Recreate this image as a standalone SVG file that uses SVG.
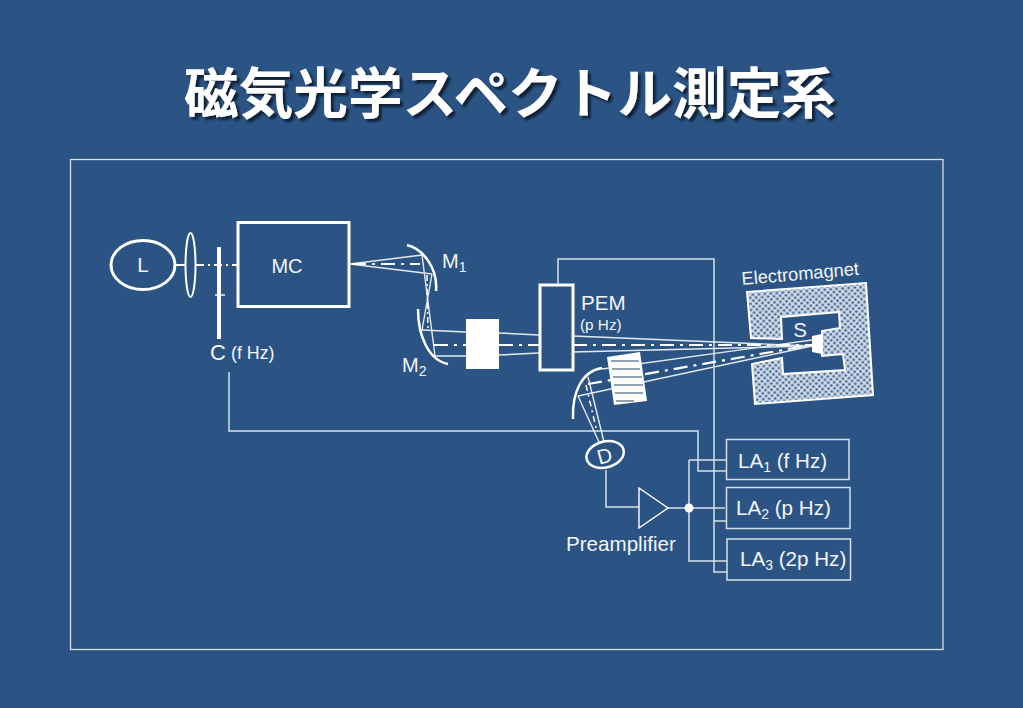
<svg xmlns="http://www.w3.org/2000/svg" width="1023" height="708" viewBox="0 0 1023 708">
<defs>
<style>
text{font-family:"Liberation Sans",Arial,sans-serif;fill:#f2f5f9;font-size:20.600px}
.title{font-family:"Noto Sans CJK JP","Noto Sans CJK SC",sans-serif;font-weight:700;font-size:54.500px;fill:#fff;filter:url(#sh)}
.s{font-size:14px}
.t,.w,.r,.dd,.o{fill:none;stroke:#fff}
.t{stroke-width:1.500;stroke:#d5dfea}
.r{stroke-width:1.400;stroke:#e3e9f1}
.w{stroke-width:3}
.dd{stroke-width:2.200;stroke-dasharray:14 6 3 6}
.o{stroke-width:1.400}
</style>
<filter id="sh" x="-5%" y="-20%" width="110%" height="140%"><feDropShadow dx="3" dy="3" stdDeviation="1.200" flood-color="#0b1a33" flood-opacity="0.950"/></filter>
<pattern id="hatch" width="6" height="6" patternUnits="userSpaceOnUse" patternTransform="rotate(-4)">
<rect width="6" height="6" fill="#cfdae7"/>
<circle cx="1.500" cy="1.500" r="1.300" fill="#3a608e"/>
<circle cx="4.500" cy="4.500" r="1.300" fill="#3a608e"/>
</pattern>
</defs>
<rect width="1023" height="708" fill="#2b5484"/>
<text id="title" class="title" x="184" y="113" textLength="652" lengthAdjust="spacingAndGlyphs">磁気光学スペクトル測定系</text>
<rect id="frame" x="70.500" y="159.500" width="872.500" height="490" fill="none" stroke="#d5dfea" stroke-width="1.300"/>
<g id="connectors">
<path class="t" d="M229 372V431H698V471H727"/>
<path class="t" d="M558 285V259H714V572H727M714 521H726"/>
<path class="t" d="M606 470V507H639M668 508H725M689 460V561H727M689 460H727"/>
<path class="r" d="M350 264L422 255M350 264L432 274M422 255L435 356M432 274L422 330"/>
<path class="r" d="M422 330L466 332M435 356L466 356M499 333L539 335M499 355L539 353"/>
<path class="r" d="M573 336L812 346M573 352L812 346"/>
<path class="r" d="M602 369L812 340M578 396L812 346M578 396L599 442M588 377L604 442"/>
<path style="stroke:#fff;stroke-width:2" d="M176 265H186"/>
<path class="dd" d="M196 265H238" style="stroke-dasharray:8 4 2 4"/>
<path class="dd" d="M352 264H420"/>
<path class="dd" d="M427 275L428 330" style="stroke-width:1.500;stroke-dasharray:6 3 2 3"/>
<path class="dd" d="M434 345H466M499 345H539M573 345H812"/>
<path class="dd" d="M588 384L812 345"/>
<path class="dd" d="M586 385L597 432" style="stroke-width:1.500;stroke-dasharray:6 4 2 4"/>
<path d="M215 295H225" class="o"/>
</g>
<g id="L"><ellipse class="w" cx="143" cy="265" rx="32" ry="24.500"/><text x="143" y="272" text-anchor="middle">L</text></g>
<g id="lens"><ellipse cx="190.500" cy="265" rx="5" ry="32" fill="none" stroke="#fff" stroke-width="2"/></g>
<g id="C"><rect x="217" y="247" width="4" height="92" fill="#fff"/><text x="210" y="360" style="font-size:22px">C</text><text x="231" y="359" style="font-size:17.800px">(f Hz)</text></g>
<g id="MC"><rect class="w" x="238" y="222.500" width="111" height="84"/><text x="287" y="273" text-anchor="middle" style="font-size:20px">MC</text></g>
<g id="M1"><path class="w" style="stroke-width:2.500" d="M407 245C423 249 438 268 436 291"/><text x="442" y="268" style="font-size:20px">M<tspan class="s" dy="4">1</tspan></text></g>
<g id="M2"><path class="w" style="stroke-width:2.500" d="M418 309C418 335 428 360 448 364"/><text x="402" y="372" style="font-size:20px">M<tspan class="s" dy="4">2</tspan></text></g>
<g id="block"><rect x="466" y="319" width="33" height="50" fill="#fff"/></g>
<g id="PEM"><rect class="w" x="540" y="285" width="33" height="85" fill="#2b5484"/><text x="581" y="310">PEM</text><text x="580" y="330" style="font-size:15.300px">(p Hz)</text></g>
<g id="filter"><path d="M607 357L640 352L647 401L614 405Z" fill="#fff"/><path stroke="#24456f" stroke-width="1.200" fill="none" d="M611 361H639M612 369H640M613 377H642M614 385H643M615 393H643M616 401H634"/></g>
<g id="M3"><path class="w" style="stroke-width:2.500" d="M602 368C582 371 572 392 573 419"/></g>
<g id="D"><ellipse cx="605" cy="454.500" rx="19" ry="13" transform="rotate(-15 605 454)" fill="#2b5484" stroke="#fff" stroke-width="2.500"/><text x="605" y="463" text-anchor="middle" transform="rotate(-15 605 457)">D</text></g>
<g id="preamp"><path class="o" d="M639 488L668 508L639 528Z" fill="#2b5484"/><circle cx="689" cy="508" r="4.500" fill="#fff"/><text x="566" y="551">Preamplifier</text></g>
<g id="LA1"><rect class="t" x="726.500" y="439.500" width="122.500" height="40"/><text x="738" y="468">LA<tspan class="s" dy="4">1</tspan><tspan dy="-4"> (f Hz)</tspan></text></g>
<g id="LA2"><rect class="t" x="726.500" y="487.500" width="123.500" height="41"/><text x="736" y="515">LA<tspan class="s" dy="4">2</tspan><tspan dy="-4"> (p Hz)</tspan></text></g>
<g id="LA3"><rect class="t" x="727" y="539" width="123.500" height="41"/><text x="740" y="566">LA<tspan class="s" dy="4">3</tspan><tspan dy="-4"> (2p Hz)</tspan></text></g>
<g id="magnet">
<path d="M747 292L866 283L873 395L755 404L752 364L782 358L783 374L845 370L843 354L822 356L822 331L840 328L839 312L781 317L782 339L751 338Z" fill="url(#hatch)" stroke="#fff" stroke-width="2"/>
<path d="M812 336L822 334V354L812 352Z" fill="#fff"/>
<text x="800" y="337" text-anchor="middle">S</text>
<text x="742" y="285" transform="rotate(-5 742 285)" style="font-size:18.300px">Electromagnet</text>
</g>
</svg>
